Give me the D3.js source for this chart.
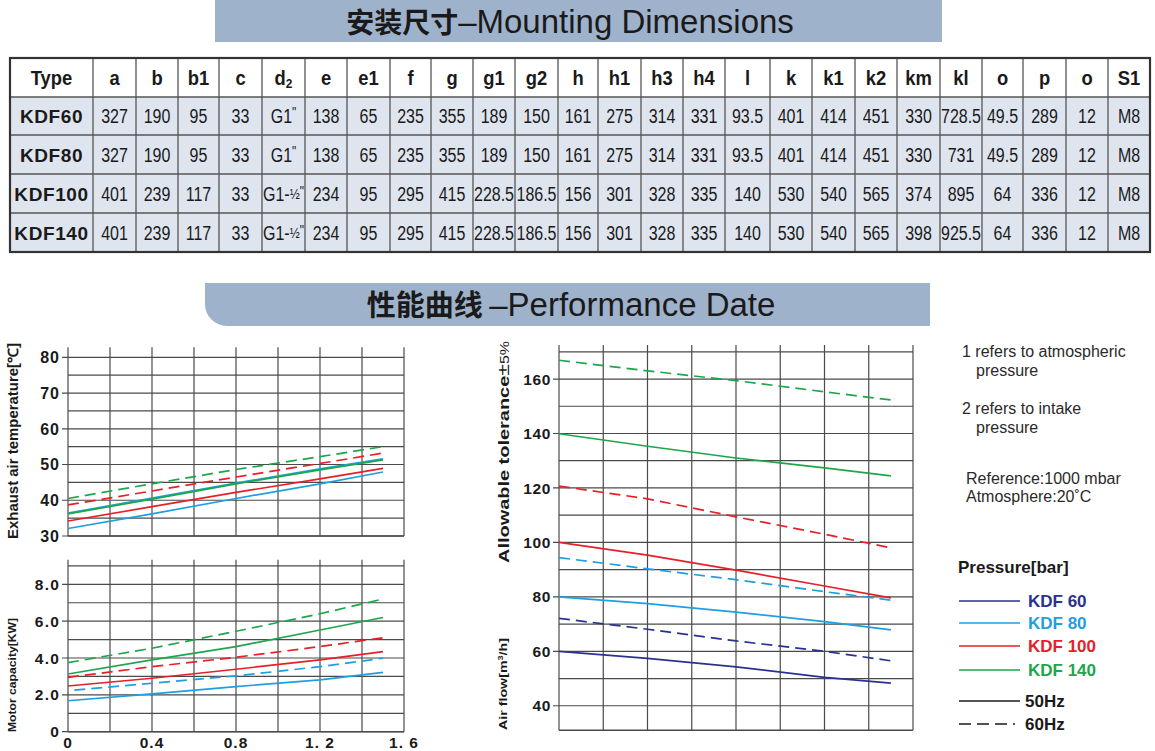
<!DOCTYPE html>
<html><head><meta charset="utf-8">
<script src="https://cdn.jsdelivr.net/npm/d3@7"></script>
<style>body{margin:0;background:#fff}svg{display:block}</style>
</head><body>
<script>
// ---------- table data ----------
const tableHeaders = ["Type","a","b","b1","c","d2","e","e1","f","g","g1","g2","h","h1","h3","h4","l","k","k1","k2","km","kl","o","p","o","S1"];
const rowKDF60  = ["KDF60","327","190","95","33","G1\"","138","65","235","355","189","150","161","275","314","331","93.5","401","414","451","330","728.5","49.5","289","12","M8"];
const rowKDF80  = ["KDF80","327","190","95","33","G1\"","138","65","235","355","189","150","161","275","314","331","93.5","401","414","451","330","731","49.5","289","12","M8"];
const rowKDF100 = ["KDF100","401","239","117","33","G1-½\"","234","95","295","415","228.5","186.5","156","301","328","335","140","530","540","565","374","895","64","336","12","M8"];
const rowKDF140 = ["KDF140","401","239","117","33","G1-½\"","234","95","295","415","228.5","186.5","156","301","328","335","140","530","540","565","398","925.5","64","336","12","M8"];

// ---------- curve data (x = pressure) ----------
const xValues = [0, 0.4, 0.8, 1.2, 1.5];
const xTickValues = [0, 0.4, 0.8, 1.2, 1.6];
const xTickLabels = ["0", "0.4", "0.8", "1. 2", "1. 6"];

// Exhaust air temperature [°C]
const tempKDF80_50  = [32.1, 36.2, 40.5, 44.6, 47.9];
const tempKDF80_60  = [36.4, 40.6, 44.8, 48.8, 51.6];
const tempKDF100_50 = [34.2, 38.2, 42.2, 46.0, 48.9];
const tempKDF100_60 = [38.7, 42.6, 46.5, 50.3, 53.2];
const tempKDF140_50 = [36.2, 40.3, 44.6, 48.5, 51.3];
const tempKDF140_60 = [40.5, 44.6, 48.6, 52.2, 55.0];
const tempTicks = [30, 40, 50, 60, 70, 80];

// Motor capacity [KW]
const motorKDF80_50  = [1.68, 2.05, 2.45, 2.81, 3.22];
const motorKDF80_60  = [2.26, 2.63, 3.03, 3.53, 3.99];
const motorKDF100_50 = [2.48, 2.90, 3.39, 3.90, 4.35];
const motorKDF100_60 = [2.95, 3.53, 4.04, 4.62, 5.10];
const motorKDF140_50 = [3.13, 3.90, 4.62, 5.52, 6.20];
const motorKDF140_60 = [3.75, 4.53, 5.45, 6.40, 7.20];
const motorTicks = [0, 2, 4, 6, 8];
const motorTickLabels = ["0", "2.0", "4.0", "6.0", "8.0"];

// Air flow [m3/h]
const flowKDF60_50  = [60.0, 57.4, 54.3, 50.4, 48.3];
const flowKDF60_60  = [72.1, 68.1, 63.8, 60.0, 56.5];
const flowKDF80_50  = [80.0, 77.5, 74.4, 70.9, 67.9];
const flowKDF80_60  = [94.4, 90.3, 86.3, 81.9, 78.8];
const flowKDF100_50 = [100.0, 95.3, 89.8, 84.0, 79.6];
const flowKDF100_60 = [120.7, 116.0, 109.4, 103.0, 98.0];
const flowKDF140_50 = [139.9, 135.3, 131.0, 127.4, 124.4];
const flowKDF140_60 = [166.9, 163.0, 159.4, 155.3, 152.3];
const flowTicks = [40, 60, 80, 100, 120, 140, 160];

const legendNames = ["KDF 60", "KDF 80", "KDF 100", "KDF 140"];
const freqNames = ["50Hz", "60Hz"];
const notes = ["1 refers to atmospheric", "pressure", "2 refers to intake", "pressure"];
const refNotes = ["Reference:1000 mbar", "Atmosphere:20˚C"];

// ---------- styles ----------
const COL = {KDF60: "#2b318f", KDF80: "#1e9fe0", KDF100: "#e5202a", KDF140: "#1ea64b"};
const GRID = "#4a4a4a";
const FONT = "'Liberation Sans', Arial, sans-serif";
const CJK = "'Noto Sans CJK SC', sans-serif";
const DASH = "11,6";

const svg = d3.select("body").append("svg").attr("width", 1155).attr("height", 751)
  .attr("font-family", FONT);

// ---------- banner 1 ----------
svg.append("rect").attr("x", 215).attr("y", 0).attr("width", 727).attr("height", 42).attr("fill", "#9fb2cb");
const t1 = svg.append("text").attr("x", 570).attr("y", 33).attr("text-anchor", "middle")
  .attr("fill", "#1a1a1a").attr("font-size", 28);
t1.append("tspan").attr("font-family", CJK).attr("font-weight", "bold").text("安装尺寸");
t1.append("tspan").attr("font-size", 33).text("–Mounting Dimensions");

// ---------- table ----------
const colEdges = [10,93,136,178,219,262,305,347,390,431,473,515,558,598,641,683,725,770,812,855,897,940,982,1023,1066,1108,1150];
const rowEdges = [58, 97, 135, 174, 213, 252];
const tableRows = [rowKDF60, rowKDF80, rowKDF100, rowKDF140];
const tbl = svg.append("g");
tbl.selectAll("rect.bg").data(tableRows).join("rect")
  .attr("x", colEdges[0]).attr("y", (d, i) => rowEdges[i + 1])
  .attr("width", colEdges[colEdges.length - 1] - colEdges[0])
  .attr("height", (d, i) => rowEdges[i + 2] - rowEdges[i + 1])
  .attr("fill", "#dfe5ef");
tbl.selectAll("line.v").data(colEdges.slice(1, -1)).join("line")
  .attr("x1", d => d).attr("x2", d => d).attr("y1", rowEdges[0]).attr("y2", rowEdges[rowEdges.length - 1])
  .attr("stroke", "#555").attr("stroke-width", 1.3);
tbl.selectAll("line.h").data(rowEdges.slice(1, -1)).join("line")
  .attr("x1", colEdges[0]).attr("x2", colEdges[colEdges.length - 1]).attr("y1", d => d).attr("y2", d => d)
  .attr("stroke", "#555").attr("stroke-width", 1.3);
tbl.append("rect").attr("x", colEdges[0]).attr("y", rowEdges[0])
  .attr("width", colEdges[colEdges.length - 1] - colEdges[0]).attr("height", rowEdges[rowEdges.length - 1] - rowEdges[0])
  .attr("fill", "none").attr("stroke", "#333").attr("stroke-width", 2.2);
tableHeaders.forEach((h, j) => {
  const cx = (colEdges[j] + colEdges[j + 1]) / 2, cy = (rowEdges[0] + rowEdges[1]) / 2;
  const t = tbl.append("text").attr("transform", `translate(${cx},${cy + 7}) scale(0.92,1)`).attr("text-anchor", "middle")
    .attr("font-weight", "bold").attr("font-size", 20).attr("fill", "#1a1a1a");
  if (h === "d2") {
    t.append("tspan").text("d");
    t.append("tspan").attr("font-size", 13).attr("dy", 3).text("2");
  } else t.text(h);
});
tableRows.forEach((row, i) => {
  const cy = (rowEdges[i + 1] + rowEdges[i + 2]) / 2;
  row.forEach((v, j) => {
    const cx = (colEdges[j] + colEdges[j + 1]) / 2;
    const t = tbl.append("text").attr("text-anchor", "middle").attr("fill", "#1a1a1a");
    if (j === 0) {
      t.attr("transform", `translate(${cx},${cy + 7})`)
        .attr("font-weight", "bold").attr("font-size", 19).attr("letter-spacing", 0.6).text(v);
    } else if (v.startsWith("G1")) {
      t.attr("transform", `translate(${cx},${cy + 7}) scale(0.8,1)`).attr("font-size", 20);
      if (v.includes("½")) {
        t.append("tspan").text("G1-");
        t.append("tspan").attr("font-size", 15).attr("dy", -2).text("½");
        t.append("tspan").attr("font-size", 15).attr("dy", -3).text("\"");
      } else {
        t.append("tspan").text("G1");
        t.append("tspan").attr("font-size", 15).attr("dy", -6).text("\"");
      }
    } else {
      t.attr("transform", `translate(${cx},${cy + 7}) scale(0.8,1)`).attr("font-size", 20).text(v);
    }
  });
});

// ---------- banner 2 ----------
const bx0 = 205, bx1 = 930, by0 = 283, by1 = 326, br = 22;
svg.append("path")
  .attr("d", `M${bx0},${by0} H${bx1} V${by1} H${bx0 + br} A${br},${br} 0 0 1 ${bx0},${by1 - br} Z`)
  .attr("fill", "#9fb2cb");
const t2 = svg.append("text").attr("x", 571).attr("y", 316).attr("text-anchor", "middle")
  .attr("fill", "#1a1a1a").attr("font-size", 29);
t2.append("tspan").attr("font-family", CJK).attr("font-weight", "bold").text("性能曲线 ");
t2.append("tspan").attr("font-size", 33).text("–Performance Date");

// ---------- chart helper ----------
function chart(cfg) {
  const g = svg.append("g");
  const x = d3.scaleLinear().domain([0, 1.6]).range([cfg.x0, cfg.x1]);
  const y = d3.scaleLinear().domain(cfg.yDomain).range(cfg.yRange);
  const yTop = y(cfg.gridTop), yBot = y(cfg.yBottom);
  g.selectAll("line.vg").data(d3.range(0, 9).map(i => i * 0.2)).join("line")
    .attr("x1", d => x(d)).attr("x2", d => x(d)).attr("y1", yTop).attr("y2", yBot)
    .attr("stroke", GRID).attr("stroke-width", 1.2);
  g.selectAll("line.hg").data(cfg.hLines).join("line")
    .attr("x1", d => cfg.ticks.includes(d) ? x(0) - 6 : x(0)).attr("x2", x(1.6))
    .attr("y1", d => y(d)).attr("y2", d => y(d))
    .attr("stroke", GRID).attr("stroke-width", 1.2);
  g.append("line").attr("x1", x(0)).attr("x2", x(1.6)).attr("y1", yBot).attr("y2", yBot)
    .attr("stroke", GRID).attr("stroke-width", 1.4);
  g.selectAll("text.yt").data(cfg.ticks).join("text")
    .attr("x", x(0) - 8).attr("y", d => y(d)).attr("dy", "0.36em").attr("text-anchor", "end")
    .attr("font-weight", "bold").attr("font-size", cfg.tickSize || 15).attr("letter-spacing", cfg.tickSpacing || 0)
    .attr("fill", "#1a1a1a").text((d, i) => cfg.tickLabels ? cfg.tickLabels[i] : d);
  const line = d3.line().x(d => x(d[0])).y(d => y(d[1]));
  cfg.series.forEach(s => {
    const xs = s.xs || xValues;
    g.append("path").datum(xs.map((xv, i) => [xv, s.values[i]]))
      .attr("d", line).attr("fill", "none").attr("stroke", s.color).attr("stroke-width", 1.7)
      .attr("stroke-dasharray", s.dashed ? DASH : null);
  });
  return {x, y, g};
}

// Chart 1: exhaust air temperature
chart({
  x0: 68, x1: 404, yDomain: [30, 80], yRange: [536, 357.3], gridTop: 82.8, yBottom: 30,
  hLines: d3.range(30, 81, 5), ticks: tempTicks, tickSize: 16, tickSpacing: 1,
  series: [
    {values: tempKDF140_60, color: COL.KDF140, dashed: true},
    {values: tempKDF100_60, color: COL.KDF100, dashed: true},
    {values: tempKDF80_60, color: COL.KDF80, dashed: false},
    {values: tempKDF140_50, color: COL.KDF140, dashed: false},
    {values: tempKDF100_50, color: COL.KDF100, dashed: false},
    {values: tempKDF80_50, color: COL.KDF80, dashed: false}
  ]
});
svg.append("text").attr("transform", "translate(18,441) rotate(-90)").attr("text-anchor", "middle")
  .attr("font-weight", "bold").attr("font-size", 14).attr("fill", "#1a1a1a")
  .attr("textLength", 196).attr("lengthAdjust", "spacingAndGlyphs").text("Exhaust air temperature[℃]");

// Chart 2: motor capacity
const c2 = chart({
  x0: 68, x1: 404, yDomain: [0, 8], yRange: [731.7, 584.3], gridTop: 9.33, yBottom: 0,
  hLines: d3.range(0, 10, 1), ticks: motorTicks, tickLabels: motorTickLabels, tickSize: 15.5, tickSpacing: 1.2,
  series: [
    {values: motorKDF140_60, color: COL.KDF140, dashed: true},
    {values: motorKDF140_50, color: COL.KDF140, dashed: false},
    {values: motorKDF100_60, color: COL.KDF100, dashed: true},
    {values: motorKDF100_50, color: COL.KDF100, dashed: false},
    {xs: [0.03, 0.4, 0.8, 1.2, 1.5], values: motorKDF80_60, color: COL.KDF80, dashed: true},
    {values: motorKDF80_50, color: COL.KDF80, dashed: false}
  ]
});
c2.g.selectAll("text.xt").data(xTickValues).join("text")
  .attr("x", d => c2.x(d)).attr("y", 742).attr("dy", "0.36em").attr("text-anchor", "middle")
  .attr("font-weight", "bold").attr("font-size", 15.5).attr("letter-spacing", 1).attr("fill", "#1a1a1a")
  .text((d, i) => xTickLabels[i]);
svg.append("text").attr("transform", "translate(16,675) rotate(-90)").attr("text-anchor", "middle")
  .attr("font-weight", "bold").attr("font-size", 11.5).attr("fill", "#1a1a1a")
  .attr("textLength", 114).attr("lengthAdjust", "spacingAndGlyphs").text("Motor capacity[KW]");

// Chart 3: air flow
chart({
  x0: 559, x1: 913, yDomain: [30, 170], yRange: [733, 351.8], gridTop: 172.5, yBottom: 31,
  hLines: d3.range(40, 171, 10), ticks: flowTicks, tickSize: 15.5, tickSpacing: 0.6,
  series: [
    {values: flowKDF140_60, color: COL.KDF140, dashed: true},
    {values: flowKDF140_50, color: COL.KDF140, dashed: false},
    {values: flowKDF100_60, color: COL.KDF100, dashed: true},
    {values: flowKDF100_50, color: COL.KDF100, dashed: false},
    {values: flowKDF80_60, color: COL.KDF80, dashed: true},
    {values: flowKDF80_50, color: COL.KDF80, dashed: false},
    {values: flowKDF60_60, color: COL.KDF60, dashed: true},
    {values: flowKDF60_50, color: COL.KDF60, dashed: false}
  ]
});
const at = svg.append("text").attr("transform", "translate(509,452) rotate(-90)").attr("text-anchor", "middle")
  .attr("font-weight", "bold").attr("font-size", 15).attr("fill", "#1a1a1a")
  .attr("textLength", 222).attr("lengthAdjust", "spacingAndGlyphs");
at.append("tspan").text("Allowable tolerance");
at.append("tspan").attr("font-weight", "normal").attr("font-size", 16).text("±");
at.append("tspan").attr("font-size", 12).attr("font-weight", "normal").text("5%");
const af = svg.append("text").attr("transform", "translate(507,684) rotate(-90)").attr("text-anchor", "middle")
  .attr("font-weight", "bold").attr("font-size", 11).attr("fill", "#1a1a1a")
  .attr("textLength", 92).attr("lengthAdjust", "spacingAndGlyphs");
af.append("tspan").text("Air flow[m");
af.append("tspan").attr("font-size", 7).attr("dy", -4).text("3");
af.append("tspan").attr("dy", 4).text("/h]");

// ---------- notes ----------
const noteX = [962, 976, 962, 976], noteY = [351, 370, 408, 427];
svg.selectAll("text.note").data(notes).join("text")
  .attr("x", (d, i) => noteX[i]).attr("y", (d, i) => noteY[i]).attr("dy", "0.36em")
  .attr("font-size", 16).attr("fill", "#2a2a2a").text(d => d);
svg.selectAll("text.ref").data(refNotes).join("text")
  .attr("x", 966).attr("y", (d, i) => 478 + i * 18).attr("dy", "0.36em")
  .attr("font-size", 16).attr("fill", "#2a2a2a").text(d => d);

// ---------- legend ----------
svg.append("text").attr("x", 958).attr("y", 567).attr("dy", "0.36em").attr("font-weight", "bold")
  .attr("font-size", 17).attr("fill", "#1a1a1a").text("Pressure[bar]");
const legCols = [COL.KDF60, COL.KDF80, COL.KDF100, COL.KDF140];
const legY = [601, 623, 646, 670];
legendNames.forEach((n, i) => {
  svg.append("line").attr("x1", 959).attr("x2", 1020).attr("y1", legY[i]).attr("y2", legY[i])
    .attr("stroke", legCols[i]).attr("stroke-width", 1.7);
  svg.append("text").attr("x", 1028).attr("y", legY[i]).attr("dy", "0.36em").attr("font-weight", "bold")
    .attr("font-size", 17).attr("fill", legCols[i]).text(n);
});
const fY = [701, 724];
freqNames.forEach((n, i) => {
  svg.append("line").attr("x1", 959).attr("x2", 1020).attr("y1", fY[i]).attr("y2", fY[i])
    .attr("stroke", "#1a1a1a").attr("stroke-width", 1.7).attr("stroke-dasharray", i ? "12,6,12,6,12,6,2,6" : null);
  svg.append("text").attr("x", 1025).attr("y", fY[i]).attr("dy", "0.36em").attr("font-weight", "bold")
    .attr("font-size", 17).attr("fill", "#1a1a1a").text(n);
});
</script>
</body></html>
